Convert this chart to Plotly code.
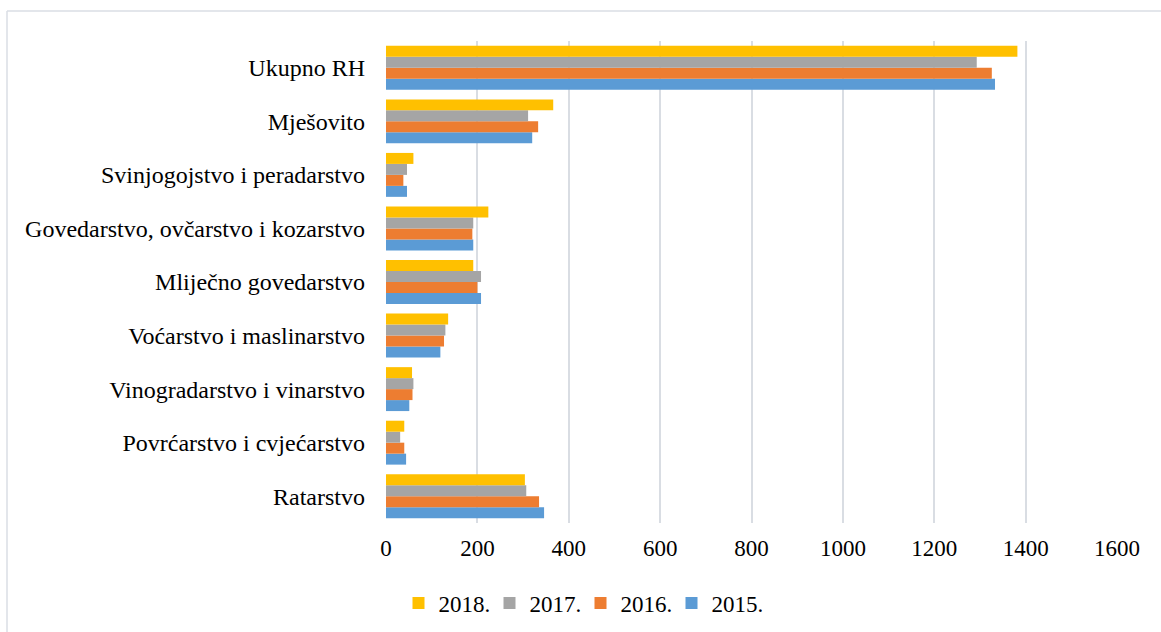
import plotly.graph_objects as go

categories = ["Ratarstvo", "Povrćarstvo i cvjećarstvo", "Vinogradarstvo i vinarstvo",
              "Voćarstvo i maslinarstvo", "Mliječno govedarstvo",
              "Govedarstvo, ovčarstvo i kozarstvo", "Svinjogojstvo i peradarstvo",
              "Mješovito", "Ukupno RH"]

v2015 = [346, 44, 51, 119, 208, 191, 46, 320, 1333]
v2016 = [335, 40, 58, 127, 200, 189, 38, 333, 1326]
v2017 = [307, 31, 60, 130, 208, 191, 46, 311, 1293]
v2018 = [304, 40, 57, 136, 191, 224, 60, 366, 1382]

series = [("2015.", v2015, "#5B9BD5"), ("2016.", v2016, "#ED7D31"),
          ("2017.", v2017, "#A5A5A5"), ("2018.", v2018, "#FFC000")]

fig = go.Figure()
for name, vals, col in series:
    fig.add_trace(go.Bar(y=categories, x=vals, name=name, orientation="h",
                         marker=dict(color=col, line=dict(width=0))))

W, H = 1161, 632
ml, mr, mt, mb = 386, 44, 41, 109
pw, ph = W - ml - mr, H - mt - mb

def px(xp):
    return (xp - ml) / pw

def py(yp):
    return (H - mb - yp) / ph

border = "#DADEE4"
fig.update_layout(
    width=W, height=H,
    margin=dict(l=ml, r=mr, t=mt, b=mb),
    barmode="group", bargap=0.18, bargroupgap=0,
    plot_bgcolor="white", paper_bgcolor="white",
    font=dict(family="Liberation Serif, Times New Roman, serif", size=23, color="#000000"),
    legend=dict(orientation="h", traceorder="reversed", xref="container", x=0.5,
                xanchor="center", yref="container", y=1 - 603 / H, yanchor="middle",
                font=dict(size=23), itemwidth=30, entrywidth=46),
    xaxis=dict(range=[0, 1600], dtick=200, showgrid=True, gridcolor="#D9DDE3",
               gridwidth=2, zeroline=False, showline=False, ticks="",
               tickfont=dict(size=23), ticklabelstandoff=9),
    yaxis=dict(showgrid=False, showline=False, ticks="", ticklabelstandoff=20,
               tickfont=dict(size=24)),
    shapes=[
        dict(type="line", xref="paper", yref="paper", x0=px(7), x1=px(1170),
             y0=py(11), y1=py(11), line=dict(color=border, width=1.5), layer="below"),
        dict(type="line", xref="paper", yref="paper", x0=px(7), x1=px(7),
             y0=py(11), y1=py(640), line=dict(color=border, width=1.5), layer="below"),
    ],
)

fig.write_html("out.html", config={"displayModeBar": False},
               post_script="document.body.style.margin='0';")
